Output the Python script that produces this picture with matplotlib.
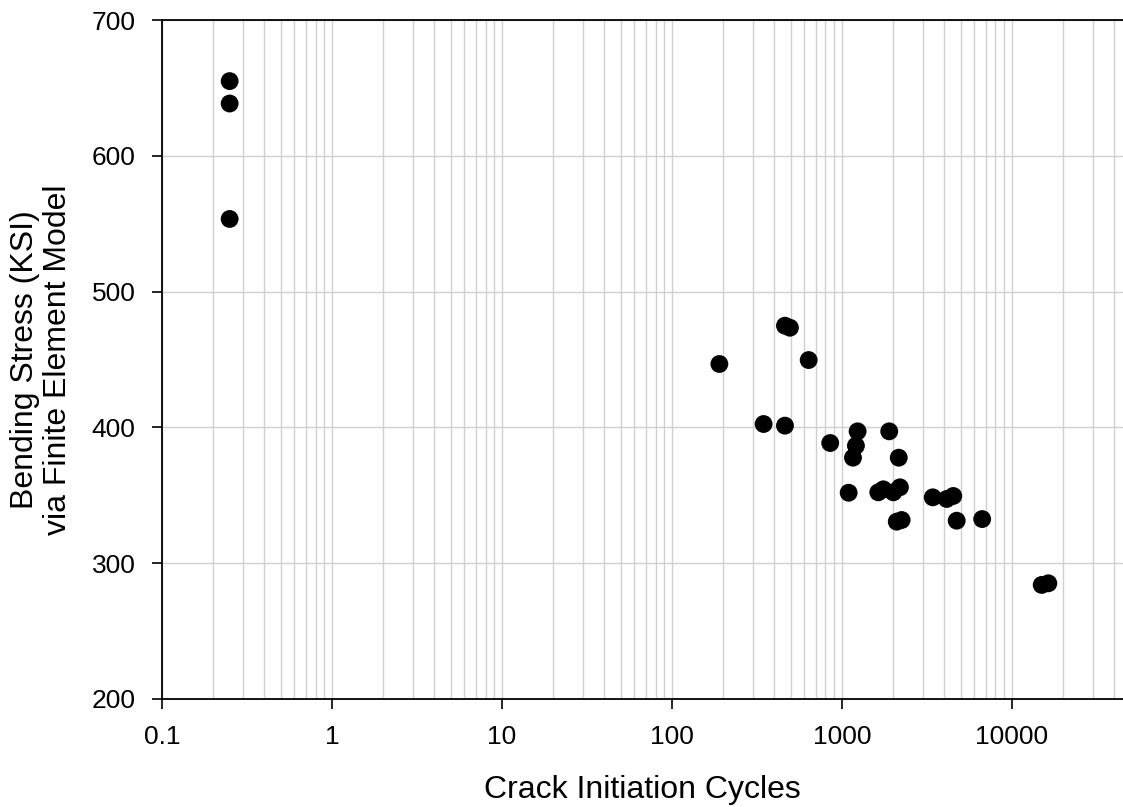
import matplotlib
matplotlib.use("Agg")
import matplotlib.pyplot as plt
import numpy as np
from matplotlib.ticker import FixedLocator, LogLocator, NullFormatter

plt.rcParams['font.family'] = ['Liberation Sans', 'DejaVu Sans']

# data
cycles = [0.25, 0.25, 0.25,
          190, 462, 494, 637, 346, 462, 853,
          1236, 1208, 1161, 1897, 2158,
          1095, 1636, 1751, 2006, 2193,
          2100, 2244, 3420, 4133, 4517, 4730, 6680,
          14960, 16370]
stress = [655, 638.5, 553.5,
          446.7, 474.9, 473.4, 449.6, 402.5, 401.3, 388.5,
          397.1, 386.5, 377.7, 397.1, 377.7,
          351.9, 352.2, 354.4, 352.2, 355.9,
          330.6, 331.8, 348.5, 347.3, 349.5, 331.3, 332.5,
          284.0, 285.2]

xticks = [0.1, 1, 10, 100, 1000, 10000]
xticklabels = ['0.1', '1', '10', '100', '1000', '10000']
yticks = [200, 300, 400, 500, 600, 700]

W, H = 1123, 807
fig = plt.figure(figsize=(W/100, H/100), dpi=100)
ax = fig.add_axes([162/W, (H-699)/H, (W-162)/W, (699-20)/H])

ax.scatter(cycles, stress, s=165, color='black', edgecolors='none', zorder=3)

ax.set_xscale('log')
ax.set_xlim(0.1, 45000)
ax.set_ylim(200, 700)

ax.xaxis.set_major_locator(FixedLocator(xticks))
ax.set_xticklabels(xticklabels)
ax.xaxis.set_minor_locator(LogLocator(base=10, subs=np.arange(2, 10)))
ax.xaxis.set_minor_formatter(NullFormatter())
ax.set_yticks(yticks)

ax.grid(True, which='major', axis='both', color='#d0d0d0', linewidth=1)
ax.grid(True, which='minor', axis='x', color='#d0d0d0', linewidth=1)
ax.set_axisbelow(True)

ax.tick_params(axis='both', which='major', direction='out', length=7, width=1.2,
               labelsize=19, pad=12)
ax.tick_params(axis='x', which='minor', length=0)

for s in ['left', 'bottom', 'top']:
    ax.spines[s].set_linewidth(1.3)
ax.spines['right'].set_visible(False)

ax.set_xlabel('Crack Initiation Cycles', fontsize=23)
ax.xaxis.set_label_coords(0.5, -0.112)
ax.set_ylabel('Bending Stress (KSI)\nvia Finite Element Model', fontsize=23,
              linespacing=1.1)
ax.yaxis.set_label_coords(-0.093, 0.5)

fig.savefig('out.png', dpi=100)
